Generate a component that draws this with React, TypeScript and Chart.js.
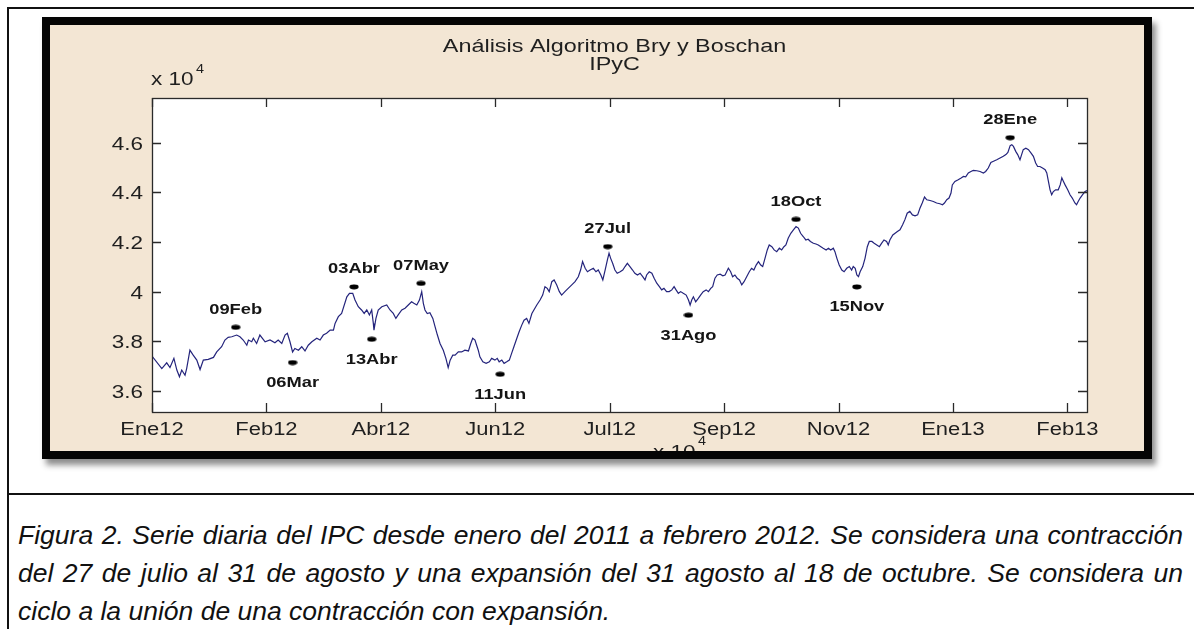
import React, { useEffect, useRef } from 'react';
import { Chart, registerables } from 'chart.js';

Chart.register(...registerables);

const FONT = '"Liberation Sans", Arial, Helvetica, sans-serif';

// Trading-day index (x) and IPyC level in units of 10^4 (y)
const seriesDays = [
  0.0, 3.0, 4.5, 5.5, 6.7, 7.6, 8.4, 9.1, 10.1, 10.6, 11.6, 12.6, 13.7, 14.7, 15.7, 17.2, 18.8, 19.8, 21.3, 22.3,
  23.3, 24.4, 25.9, 26.9, 27.9, 29.0, 29.5, 30.5, 31.0, 32.0, 33.0, 34.6, 36.1, 37.6, 38.6, 39.7, 40.7, 41.4, 42.2, 43.0,
  43.7, 44.8, 45.8, 46.8, 47.8, 48.9, 50.4, 51.4, 52.4, 53.4, 54.5, 55.5, 56.0, 57.0, 58.0,
  59.6, 60.4, 61.4, 62.1, 63.1, 64.1, 64.9, 65.7, 66.5, 67.2, 67.7, 67.9, 68.5, 69.2, 70.3, 71.8, 72.8, 73.8, 74.6, 75.3,
  76.4, 77.4, 78.4, 79.4, 80.1, 81.0, 81.8, 82.5, 83.0, 83.5, 84.2, 85.0, 85.9, 86.6, 87.3, 88.1, 89.1, 89.9, 90.6, 91.2,
  92.0, 92.7, 93.7, 94.7, 95.7, 96.8, 97.5, 98.1, 98.8, 99.3, 99.8, 100.3, 101.2, 102.2, 103.2, 103.9, 104.9, 105.6, 106.2, 107.0,
  107.7, 108.5, 109.3, 110.0, 110.7, 111.6, 112.3, 113.1, 113.8, 114.6, 115.3, 116.2,
  117.7, 118.7, 119.5, 120.2, 120.9, 121.5, 122.3, 123.0, 123.8, 124.6, 125.3, 126.3, 127.3, 128.4, 129.4, 130.4, 131.1, 131.7, 132.5, 133.2,
  134.0, 135.0, 135.8, 136.5, 137.3, 137.9, 138.6, 139.3, 139.8, 140.3, 140.9, 141.6, 142.3, 143.2, 144.0, 144.7, 145.4, 146.2, 147.0, 147.7,
  148.5, 149.3, 150.1, 150.8, 151.3, 152.1, 152.9, 153.6, 154.4, 155.2, 155.9, 156.6, 157.4, 158.2, 159.0, 159.7, 160.3, 161.0, 161.7, 162.5,
  163.4, 164.1, 164.6, 165.1, 165.6, 166.3, 167.1, 167.8, 168.6, 169.5, 170.2, 170.9, 171.5, 172.2, 172.9, 173.8, 174.6, 175.3,
  176.3, 177.0, 177.6, 178.3, 179.0, 179.7, 180.4, 181.1, 181.9, 182.7, 183.4, 184.1, 184.8, 185.5, 186.2, 186.8, 187.5, 188.2, 188.8, 189.6,
  190.3, 191.1, 191.9, 192.6, 193.3, 193.9, 194.6, 195.4, 196.2, 197.0, 197.7, 198.4, 199.2, 200.0, 200.7, 201.4, 202.3, 203.1, 203.8, 204.6,
  205.3, 206.2, 206.9, 207.6, 208.4, 208.9, 209.5, 210.2, 211.0, 211.7, 212.5, 213.3, 214.0, 214.5, 215.1, 215.6, 216.1, 216.6, 217.4, 218.1,
  218.8, 219.4, 220.2, 220.9, 221.7, 222.5, 223.2, 223.9, 224.7, 225.2, 225.7, 226.6, 227.3, 228.0, 228.8, 229.6, 230.3, 231.0, 231.8, 232.6, 233.4,
  234.2, 234.9, 235.6, 236.3, 237.0, 238.0, 239.0, 240.0, 241.0, 241.8, 242.4, 243.1, 243.8, 244.4, 244.8, 245.6, 246.6, 247.5, 248.2, 248.9,
  249.7, 250.5, 251.2, 252.3, 253.3, 254.3, 255.0, 255.8, 256.6, 257.4, 258.4, 259.4, 260.4, 261.2, 261.8, 262.5, 263.0, 263.5, 264.2, 264.8,
  265.5, 266.0, 266.5, 267.3, 268.1, 268.9, 269.6, 270.3, 270.9, 271.6, 272.4, 273.2, 273.7, 274.2, 274.7, 275.2, 275.7, 276.4, 277.2, 277.8,
  278.3, 278.8, 279.3, 280.1, 280.8, 281.5, 282.3, 282.8, 283.3, 283.9, 284.6, 285.4, 286.0,
];
const seriesValues = [
  3.740, 3.690, 3.713, 3.694, 3.731, 3.684, 3.657, 3.684, 3.663, 3.690, 3.764, 3.744, 3.724, 3.686, 3.724, 3.727, 3.735, 3.757, 3.778, 3.805,
  3.816, 3.818, 3.825, 3.818, 3.805, 3.784, 3.805, 3.798, 3.812, 3.791, 3.825, 3.798, 3.805, 3.794, 3.805, 3.791, 3.825, 3.832, 3.798, 3.757,
  3.771, 3.764, 3.778, 3.761, 3.784, 3.798, 3.812, 3.805, 3.825, 3.832, 3.845, 3.845, 3.872, 3.899, 3.912,
  3.979, 3.993, 3.993, 3.966, 3.939, 3.926, 3.912, 3.926, 3.906, 3.926, 3.872, 3.845, 3.892, 3.926, 3.939, 3.946, 3.926, 3.912, 3.892, 3.906,
  3.926, 3.933, 3.946, 3.959, 3.953, 3.946, 3.966, 4.000, 3.953, 3.926, 3.912, 3.915, 3.892, 3.858, 3.825, 3.791, 3.764, 3.731, 3.694, 3.724,
  3.744, 3.744, 3.757, 3.757, 3.764, 3.761, 3.791, 3.812, 3.805, 3.784, 3.764, 3.737, 3.717, 3.711, 3.717, 3.731, 3.724, 3.731, 3.717, 3.724,
  3.711, 3.717, 3.724, 3.751, 3.778, 3.812, 3.838, 3.865, 3.885, 3.892, 3.872, 3.912,
  3.946, 3.966, 3.986, 4.020, 4.013, 4.000, 4.040, 4.047, 4.027, 4.000, 3.986, 4.000, 4.013, 4.027, 4.040, 4.060, 4.087, 4.121, 4.094, 4.080,
  4.087, 4.094, 4.080, 4.087, 4.067, 4.047, 4.087, 4.128, 4.155, 4.134, 4.114, 4.087, 4.074, 4.080, 4.087, 4.101, 4.114, 4.101, 4.087, 4.074,
  4.067, 4.074, 4.060, 4.047, 4.067, 4.080, 4.074, 4.054, 4.034, 4.020, 4.007, 4.013, 4.000, 4.000, 4.007, 4.020, 4.007, 3.993, 4.000, 3.993,
  3.986, 3.966, 3.946, 3.966, 3.979, 3.959, 3.973, 3.986, 4.000, 4.007, 4.000, 4.013, 4.020, 4.054, 4.067, 4.070, 4.064, 4.067,
  4.094, 4.080, 4.060, 4.067, 4.054, 4.047, 4.027, 4.040, 4.060, 4.080, 4.094, 4.087, 4.107, 4.121, 4.107, 4.101, 4.134, 4.168, 4.188, 4.181,
  4.168, 4.161, 4.175, 4.168, 4.181, 4.188, 4.215, 4.235, 4.249, 4.262, 4.256, 4.235, 4.222, 4.208, 4.211, 4.202, 4.195, 4.192, 4.188, 4.181,
  4.175, 4.168, 4.175, 4.168, 4.175, 4.161, 4.134, 4.107, 4.087, 4.080, 4.094, 4.101, 4.087, 4.101, 4.094, 4.067, 4.060, 4.080, 4.101, 4.134,
  4.181, 4.202, 4.202, 4.195, 4.188, 4.181, 4.195, 4.208, 4.202, 4.188, 4.208, 4.228, 4.235, 4.242, 4.249, 4.269, 4.290, 4.316, 4.323, 4.309, 4.305,
  4.309, 4.336, 4.357, 4.381, 4.370, 4.367, 4.363, 4.357, 4.354, 4.350, 4.357, 4.370, 4.377, 4.397, 4.430, 4.444, 4.451, 4.458, 4.464, 4.462,
  4.478, 4.484, 4.488, 4.487, 4.484, 4.478, 4.484, 4.498, 4.520, 4.525, 4.531, 4.538, 4.545, 4.552, 4.561, 4.588, 4.592, 4.585, 4.565, 4.552,
  4.531, 4.552, 4.572, 4.578, 4.572, 4.558, 4.545, 4.518, 4.504, 4.504, 4.498, 4.491, 4.478, 4.444, 4.410, 4.390, 4.403, 4.410, 4.410, 4.430,
  4.458, 4.444, 4.430, 4.410, 4.390, 4.377, 4.357, 4.350, 4.363, 4.377, 4.390, 4.403, 4.407,
];

// Turning points found by the Bry-Boschan algorithm
const markerLabels = ['09Feb', '06Mar', '03Abr', '13Abr', '07May', '11Jun', '27Jul', '31Ago', '18Oct', '15Nov', '28Ene'];
const markerDays = [25.6, 43.0, 61.8, 67.2, 82.3, 106.5, 139.4, 164.1, 197.0, 215.6, 262.5];
const markerValues = [3.856, 3.714, 4.019, 3.808, 4.033, 3.667, 4.181, 3.905, 4.291, 4.019, 4.620];
const markerKinds = ['pico', 'valle', 'pico', 'valle', 'pico', 'valle', 'pico', 'valle', 'pico', 'valle', 'pico'];

const xTickDays = [0, 35, 70, 105, 140, 175, 210, 245, 280];
const xTickLabels = ['Ene12', 'Feb12', 'Abr12', 'Jun12', 'Jul12', 'Sep12', 'Nov12', 'Ene13', 'Feb13'];
const yTickValues = [3.6, 3.8, 4.0, 4.2, 4.4, 4.6];
const yTickLabels = ['3.6', '3.8', '4', '4.2', '4.4', '4.6'];
const xRange = [0, 286];
const yRange = [3.515, 4.78];

const titleLines = ['Análisis Algoritmo Bry y Boschan', 'IPyC'];
const exponentText = ['x 10', '4'];

const captionLines = [
  'Figura 2. Serie diaria del IPC desde enero del 2011 a febrero 2012. Se considera una contracción',
  'del 27 de julio al 31 de agosto y una expansión del 31 agosto al 18 de octubre. Se considera un',
  'ciclo a la unión de una contracción con expansión.',
];

const TEXT = '#1f1f1f';

function drawStretched(
  ctx: CanvasRenderingContext2D,
  text: string,
  x: number,
  y: number,
  font: string,
  align: CanvasTextAlign,
  sx: number,
  color = TEXT,
) {
  ctx.save();
  ctx.font = font;
  ctx.fillStyle = color;
  ctx.textAlign = align;
  ctx.textBaseline = 'alphabetic';
  ctx.translate(x, y);
  ctx.scale(sx, 1);
  ctx.fillText(text, 0, 0);
  ctx.restore();
}

const matlabAxes = {
  id: 'matlabAxes',
  beforeDatasetsDraw(chart: any) {
    const { ctx, chartArea: a } = chart;
    ctx.save();
    ctx.fillStyle = '#ffffff';
    ctx.fillRect(a.left, a.top, a.right - a.left, a.bottom - a.top);
    ctx.restore();
  },
  afterDatasetsDraw(chart: any) {
    const { ctx, chartArea: a, scales } = chart;
    const xs = scales.x;
    const ys = scales.y;
    const tick = 9;

    ctx.save();
    ctx.strokeStyle = '#2a2a2a';
    ctx.lineWidth = 1.3;
    ctx.beginPath();
    xTickDays.forEach((d) => {
      const px = Math.round(xs.getPixelForValue(d)) + 0.5;
      ctx.moveTo(px, a.bottom);
      ctx.lineTo(px, a.bottom - tick);
      ctx.moveTo(px, a.top);
      ctx.lineTo(px, a.top + tick);
    });
    yTickValues.forEach((v) => {
      const py = Math.round(ys.getPixelForValue(v)) + 0.5;
      ctx.moveTo(a.left, py);
      ctx.lineTo(a.left + tick, py);
      ctx.moveTo(a.right, py);
      ctx.lineTo(a.right - tick, py);
    });
    ctx.stroke();
    ctx.strokeRect(Math.round(a.left) + 0.5, Math.round(a.top) + 0.5, Math.round(a.right - a.left), Math.round(a.bottom - a.top));
    ctx.restore();

    const tickFont = `18px ${FONT}`;
    xTickDays.forEach((d, i) => {
      drawStretched(ctx, xTickLabels[i], xs.getPixelForValue(d), a.bottom + 23, tickFont, 'center', 1.22);
    });
    yTickValues.forEach((v, i) => {
      drawStretched(ctx, yTickLabels[i], a.left - 9, ys.getPixelForValue(v) + 7, tickFont, 'right', 1.25);
    });

    // exponent labels
    drawStretched(ctx, exponentText[0], a.left - 1, a.top - 13, tickFont, 'left', 1.25);
    drawStretched(ctx, exponentText[1], a.left + 44, a.top - 25, `12px ${FONT}`, 'left', 1.2);
    drawStretched(ctx, exponentText[0], a.left + 501, a.bottom + 46, tickFont, 'left', 1.25);
    drawStretched(ctx, exponentText[1], a.left + 546, a.bottom + 33, `12px ${FONT}`, 'left', 1.2);

    // title
    const cx = (a.left + a.right) / 2 - 5;
    drawStretched(ctx, titleLines[0], cx, a.top - 46, `18px ${FONT}`, 'center', 1.3);
    drawStretched(ctx, titleLines[1], cx, a.top - 28, `18px ${FONT}`, 'center', 1.3);

    // turning point labels
    const meta = chart.getDatasetMeta(1);
    meta.data.forEach((pt: any, i: number) => {
      const dy = markerKinds[i] === 'pico' ? -19 : 19;
      drawStretched(ctx, markerLabels[i], pt.x, pt.y + dy + 5.5, `bold 15.5px ${FONT}`, 'center', 1.18, '#151515');
    });
  },
};

function makeDot(): HTMLCanvasElement {
  const c = document.createElement('canvas');
  c.width = 10;
  c.height = 6;
  const g = c.getContext('2d')!;
  g.fillStyle = '#000000';
  g.beginPath();
  g.ellipse(5, 3, 4.6, 2.4, 0, 0, Math.PI * 2);
  g.fill();
  return c;
}

function IPyCChart() {
  const ref = useRef<HTMLCanvasElement | null>(null);
  useEffect(() => {
    if (!ref.current) return;
    const dot = makeDot();
    const chart = new Chart(ref.current, {
      type: 'line',
      data: {
        datasets: [
          {
            label: 'IPyC',
            data: seriesDays.map((d, i) => ({ x: d, y: seriesValues[i] })),
            borderColor: '#24247c',
            borderWidth: 1.2,
            pointRadius: 0,
            tension: 0,
            fill: false,
          },
          {
            label: 'Puntos de giro',
            data: markerDays.map((d, i) => ({ x: d, y: markerValues[i] })),
            showLine: false,
            pointStyle: dot as any,
            pointRadius: 5,
            borderWidth: 0,
          },
        ],
      },
      options: {
        responsive: false,
        animation: false,
        devicePixelRatio: 1,
        layout: { padding: { left: 102, top: 73, right: 57, bottom: 39 } },
        plugins: { legend: { display: false }, tooltip: { enabled: false }, title: { display: false } },
        scales: {
          x: { type: 'linear', min: xRange[0], max: xRange[1], display: false },
          y: { type: 'linear', min: yRange[0], max: yRange[1], display: false },
        },
      },
      plugins: [matlabAxes],
    });
    return () => chart.destroy();
  }, []);
  return <canvas ref={ref} width={1094} height={426} style={{ width: 1094, height: 426, display: 'block' }} />;
}

export default function App() {
  const line = '#111111';
  return (
    <div style={{ position: 'absolute', left: 0, top: 0, width: 1194, height: 629, overflow: 'hidden', background: '#ffffff' }}>
      <div style={{ position: 'absolute', left: 7, top: 7, width: 1187, height: 2, background: line }} />
      <div style={{ position: 'absolute', left: 7, top: 7, width: 2, height: 622, background: line }} />
      <div style={{ position: 'absolute', left: 7, top: 493, width: 1187, height: 2, background: line }} />
      <div
        style={{
          position: 'absolute',
          left: 42,
          top: 17,
          width: 1094,
          height: 426,
          border: '8px solid #050505',
          background: '#f3e6d4',
          boxShadow: '4px 6px 6px rgba(0,0,0,0.45)',
        }}
      >
        <IPyCChart />
      </div>
      <div
        style={{
          position: 'absolute',
          left: 18,
          top: 516,
          width: 1165,
          fontFamily: FONT,
          fontStyle: 'italic',
          fontSize: 26.5,
          lineHeight: '38px',
          color: '#111111',
        }}
      >
        {captionLines.map((t, i) => (
          <div key={i} style={{ textAlign: i < 2 ? 'justify' : 'left', textAlignLast: i < 2 ? 'justify' : 'left' } as any}>
            {t}
          </div>
        ))}
      </div>
    </div>
  );
}
